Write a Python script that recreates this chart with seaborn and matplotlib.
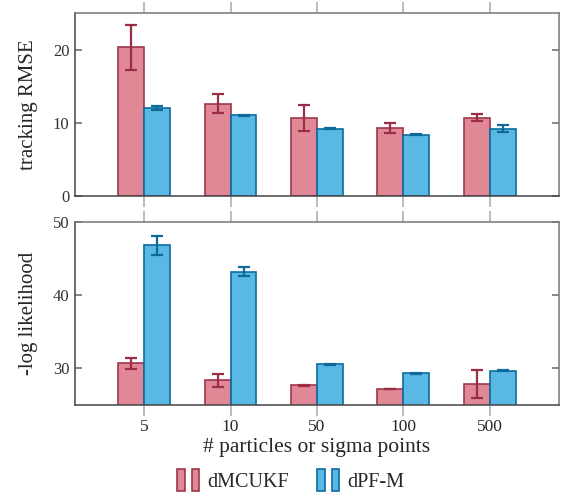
import numpy as np
import pandas as pd
import matplotlib
matplotlib.use('Agg')
import matplotlib.pyplot as plt
from matplotlib.patches import Patch
from matplotlib.legend_handler import HandlerTuple
import seaborn as sns

# Data
counts = ['5', '10', '50', '100', '500']
methods = ['dMCUKF', 'dPF-M']

rmse_ukf = [20.3, 12.6, 10.7, 9.3, 10.7]
rmse_ukf_err = [3.1, 1.3, 1.8, 0.65, 0.45]
rmse_pf = [12.0, 11.0, 9.2, 8.4, 9.2]
rmse_pf_err = [0.3, 0.1, 0.1, 0.08, 0.5]

nll_ukf = [30.7, 28.4, 27.7, 27.2, 27.9]
nll_ukf_err = [0.75, 0.9, 0.05, 0.05, 1.9]
nll_pf = [46.8, 43.2, 30.55, 29.35, 29.7]
nll_pf_err = [1.35, 0.6, 0.08, 0.05, 0.05]

fill_colors = ['#e08896', '#5ab8e4']
edge_colors = ['#a0364e', '#0b6c9e']
err_colors = ['#9b2d46', '#0e6a9b']

sns.set_theme(style='white')
plt.rcParams['font.family'] = ['Liberation Serif', 'DejaVu Serif']

fig = plt.figure(figsize=(5.61, 4.95), dpi=100)
ax1 = fig.add_axes([0.1337, 0.604, 0.8627, 0.3697])
ax2 = fig.add_axes([0.1337, 0.1818, 0.8627, 0.3697])


def draw_panel(ax, ukf, ukf_err, pf, pf_err, ylim, yticks, ylabel):
    df = pd.DataFrame({
        'n': counts * 2,
        'val': ukf + pf,
        'method': [methods[0]] * len(counts) + [methods[1]] * len(counts),
    })
    sns.barplot(data=df, x='n', y='val', hue='method', order=counts,
                hue_order=methods, palette=fill_colors, width=0.6,
                errorbar=None, legend=False, ax=ax, linewidth=1.2,
                saturation=1)
    errs = [ukf_err, pf_err]
    vals = [ukf, pf]
    bar_groups = list(ax.containers)
    for k, cont in enumerate(bar_groups):
        xs = []
        for p in cont.patches:
            p.set_edgecolor(edge_colors[k])
            p.set_facecolor(fill_colors[k])
            xs.append(p.get_x() + p.get_width() / 2)
        ax.errorbar(xs, vals[k], yerr=errs[k], fmt='none', ecolor=err_colors[k],
                    elinewidth=1.6, capsize=4, capthick=1.6, zorder=5)
    ax.set_xlim(-0.8, 4.8)
    ax.set_ylim(*ylim)
    ax.set_yticks(yticks)
    ax.set_ylabel(ylabel, fontsize=15)
    ax.yaxis.set_label_coords(-0.076, 0.5)
    ax.set_xlabel('')
    ax.tick_params(axis='y', direction='in', length=5, color='#777777',
                   left=True, right=True, labelsize=12, labelcolor='#333333', pad=4)
    ax.tick_params(axis='x', direction='out', length=8, color='#b0b0b0',
                   width=1.2, bottom=True, top=True)
    for side in ['left', 'bottom']:
        ax.spines[side].set_color('#444444')
        ax.spines[side].set_linewidth(1.1)
    for side in ['top', 'right']:
        ax.spines[side].set_color('#777777')
        ax.spines[side].set_linewidth(1.1)


draw_panel(ax1, rmse_ukf, rmse_ukf_err, rmse_pf, rmse_pf_err,
           (0, 25), [0, 10, 20], 'tracking RMSE')
draw_panel(ax2, nll_ukf, nll_ukf_err, nll_pf, nll_pf_err,
           (25, 50), [30, 40, 50], '-log likelihood')

ax1.set_xticklabels([])
ax2.tick_params(axis='x', labelsize=12.5, pad=2)
ax2.set_xlabel('# particles or sigma points', fontsize=15.5, labelpad=2)

handles = []
for k in range(2):
    a = Patch(facecolor=fill_colors[k], edgecolor=edge_colors[k], linewidth=1.2)
    b = Patch(facecolor=fill_colors[k], edgecolor=edge_colors[k], linewidth=1.2)
    handles.append((a, b))
fig.legend(handles, methods, handler_map={tuple: HandlerTuple(ndivide=None, pad=0.35)},
           loc='center', bbox_to_anchor=(0.518, 0.03), ncol=2, frameon=False,
           fontsize=14.5, handlelength=1.1, handleheight=1.3, columnspacing=1.4,
           handletextpad=0.4)

fig.savefig('out.png', dpi=100)
